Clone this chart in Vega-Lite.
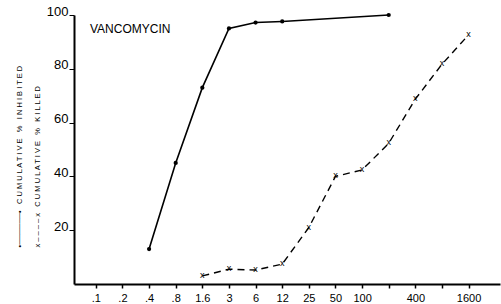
{
  "$schema": "https://vega.github.io/schema/vega-lite/v6.json",
  "width": 426,
  "height": 269,
  "autosize": {"type": "none"},
  "padding": {"left": 74, "top": 15, "right": 1, "bottom": 20},
  "background": "white",
  "title": {
    "text": "VANCOMYCIN",
    "anchor": "start",
    "frame": "group",
    "orient": "top",
    "offset": -18,
    "baseline": "top",
    "dx": 16,
    "dy": 13,
    "fontSize": 12,
    "fontWeight": "normal",
    "color": "black",
    "font": "Liberation Sans"
  },
  "config": {
    "view": {"stroke": null},
    "font": "Liberation Sans",
    "axis": {"grid": false, "domainColor": "black", "tickColor": "black", "labelColor": "black", "titleColor": "black"}
  },
  "data": {
    "values": [
      {"series": "inhibited", "conc": ".4", "pct": 13},
      {"series": "inhibited", "conc": ".8", "pct": 45},
      {"series": "inhibited", "conc": "1.6", "pct": 73},
      {"series": "inhibited", "conc": "3", "pct": 95},
      {"series": "inhibited", "conc": "6", "pct": 97.2},
      {"series": "inhibited", "conc": "12", "pct": 97.6},
      {"series": "inhibited", "conc": "200", "pct": 100},
      {"series": "killed", "conc": "1.6", "pct": 3},
      {"series": "killed", "conc": "3", "pct": 5.5},
      {"series": "killed", "conc": "6", "pct": 5.2},
      {"series": "killed", "conc": "12", "pct": 7.4},
      {"series": "killed", "conc": "25", "pct": 21},
      {"series": "killed", "conc": "50", "pct": 40},
      {"series": "killed", "conc": "100", "pct": 42.4},
      {"series": "killed", "conc": "200", "pct": 52.3},
      {"series": "killed", "conc": "400", "pct": 68.7},
      {"series": "killed", "conc": "800", "pct": 81.7},
      {"series": "killed", "conc": "1600", "pct": 92.6}
    ]
  },
  "encoding": {
    "x": {
      "field": "conc",
      "type": "ordinal",
      "scale": {
        "type": "point",
        "domain": [".1", ".2", ".4", ".8", "1.6", "3", "6", "12", "25", "50", "100", "200", "400", "800", "1600"],
        "padding": 1.215,
        "align": 0.41
      },
      "axis": {
        "title": null,
        "labelAngle": 0,
        "labelExpr": "datum.value == '200' || datum.value == '800' ? '' : datum.value",
        "labelFontSize": 11,
        "labelPadding": 4,
        "tickSize": 4,
        "tickWidth": 1.5,
        "domainWidth": 2
      }
    },
    "y": {
      "field": "pct",
      "type": "quantitative",
      "scale": {"domain": [0, 100], "nice": false},
      "axis": {
        "values": [20, 40, 60, 80, 100],
        "labelFontSize": 13,
        "labelBaseline": "alphabetic",
        "labelPadding": 1,
        "tickSize": 5,
        "tickWidth": 1,
        "domainWidth": 2,
        "title": ["\u2022\u2500\u2500\u2500\u2500\u2500\u2500\u2022\u00a0\u00a0\u00a0C U M U L A T I V E \u00a0 % \u00a0 I N H I B I T E D", "x \u2013 \u2013 \u2013 \u2013 x\u00a0\u00a0\u00a0C U M U L A T I V E \u00a0 % \u00a0 K I L L E D"],
        "titleFontSize": 7.5,
        "titleFontWeight": "normal",
        "titleAngle": -90,
        "titleAlign": "left",
        "titleBaseline": "middle",
        "titleLineHeight": 18,
        "titleX": -55,
        "titleY": 232
      }
    }
  },
  "layer": [
    {
      "transform": [{"filter": "datum.series == 'inhibited'"}],
      "mark": {"type": "line", "color": "black", "strokeWidth": 1.6}
    },
    {
      "transform": [{"filter": "datum.series == 'inhibited'"}],
      "mark": {"type": "point", "filled": true, "color": "black", "size": 18, "opacity": 1}
    },
    {
      "transform": [{"filter": "datum.series == 'killed'"}],
      "mark": {"type": "line", "color": "black", "strokeWidth": 1.4, "strokeDash": [7, 5]}
    },
    {
      "transform": [{"filter": "datum.series == 'killed'"}],
      "mark": {"type": "text", "text": "x", "fontSize": 9, "color": "black", "baseline": "middle", "dy": -1}
    }
  ]
}
